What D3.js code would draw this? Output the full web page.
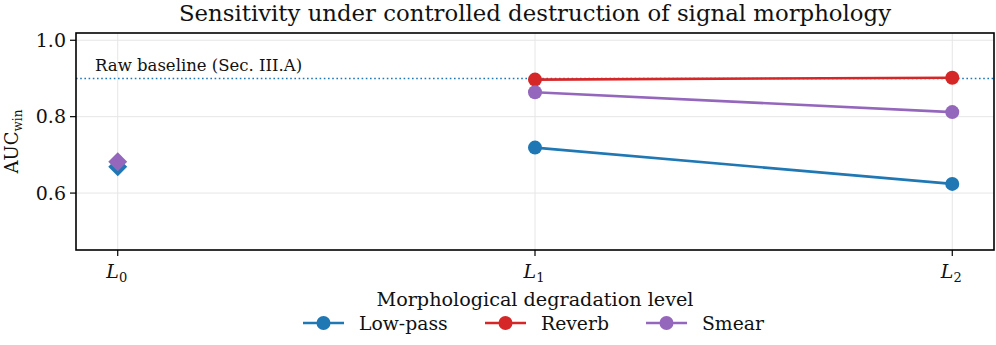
<!doctype html>
<html>
<head>
<meta charset="utf-8">
<script src="https://cdn.jsdelivr.net/npm/d3@7/dist/d3.min.js"></script>
<style>
  body { margin: 0; background: #fff; }
  text { font-family: "DejaVu Serif", serif; fill: #111; }
</style>
</head>
<body>
<script>
// data
const levels = [0, 1, 2]
const levelNames = ['0', '1', '2']
const seriesNames = ['Low-pass', 'Reverb', 'Smear']
const seriesColors = ['#1f77b4', '#d62728', '#9467bd']
const lowpass = [0.669, 0.719, 0.624]
const reverb = [null, 0.897, 0.902]
const smear = [0.682, 0.864, 0.812]
const baseline = 0.9
const yTicks = [0.6, 0.8, 1.0]

const W = 996, H = 345
const m = { left: 76, right: 2, top: 33, bottom: 95 }

const svg = d3.select('body').append('svg')
    .attr('width', W)
    .attr('height', H)

const x = d3.scaleLinear().domain([-0.1, 2.1]).range([m.left, W - m.right])
const y = d3.scaleLinear().domain([0.451, 1.019]).range([H - m.bottom, m.top])

// grid
svg.append('g').selectAll('line.gx')
    .data(levels).enter().append('line')
    .attr('x1', d => x(d)).attr('x2', d => x(d))
    .attr('y1', m.top).attr('y2', H - m.bottom)
    .attr('stroke', '#e6e6e6').attr('stroke-width', 1)
svg.append('g').selectAll('line.gy')
    .data(yTicks).enter().append('line')
    .attr('x1', m.left).attr('x2', W - m.right)
    .attr('y1', d => y(d)).attr('y2', d => y(d))
    .attr('stroke', '#e6e6e6').attr('stroke-width', 1)

// baseline
svg.append('line')
    .attr('x1', m.left).attr('x2', W - m.right)
    .attr('y1', y(baseline)).attr('y2', y(baseline))
    .attr('stroke', '#1f77b4').attr('stroke-width', 1.6)
    .attr('stroke-dasharray', '1.6,2.6')
svg.append('text')
    .attr('x', 95).attr('y', y(baseline) - 7)
    .attr('font-size', 16.5)
    .text('Raw baseline (Sec. III.A)')

// series lines (L1 -> L2)
const allSeries = [lowpass, reverb, smear]
const line = d3.line()
    .x((d, i) => x(levels[i]))
    .y(d => y(d))
    .defined((d, i) => i > 0 && d != null)

allSeries.forEach((s, k) => {
    svg.append('path')
        .datum(s)
        .attr('d', line)
        .attr('fill', 'none')
        .attr('stroke', seriesColors[k])
        .attr('stroke-width', 2.6)
    svg.append('g').selectAll('circle')
        .data(s.map((v, i) => [i, v]).filter(p => p[0] > 0 && p[1] != null))
        .enter().append('circle')
        .attr('cx', p => x(levels[p[0]]))
        .attr('cy', p => y(p[1]))
        .attr('r', 7)
        .attr('fill', seriesColors[k])
})

// L0 diamonds
allSeries.forEach((s, k) => {
    if (s[0] == null) return
    svg.append('path')
        .attr('d', d3.symbol().type(d3.symbolSquare).size(180)())
        .attr('transform', `translate(${x(levels[0])},${y(s[0])}) rotate(45)`)
        .attr('fill', seriesColors[k])
})

// axes frame
svg.append('rect')
    .attr('x', m.left).attr('y', m.top)
    .attr('width', W - m.right - m.left).attr('height', H - m.bottom - m.top)
    .attr('fill', 'none').attr('stroke', '#000').attr('stroke-width', 1.6)

// y ticks
const yAxis = svg.append('g')
yAxis.selectAll('line').data(yTicks).enter().append('line')
    .attr('x1', m.left - 6).attr('x2', m.left)
    .attr('y1', d => y(d)).attr('y2', d => y(d))
    .attr('stroke', '#000').attr('stroke-width', 1.2)
yAxis.selectAll('text').data(yTicks).enter().append('text')
    .attr('x', m.left - 10).attr('y', d => y(d) + 6.5)
    .attr('text-anchor', 'end')
    .attr('font-size', 19)
    .text(d => d.toFixed(1))

// x ticks
const xAxis = svg.append('g')
xAxis.selectAll('line').data(levels).enter().append('line')
    .attr('x1', d => x(d)).attr('x2', d => x(d))
    .attr('y1', H - m.bottom).attr('y2', H - m.bottom + 6)
    .attr('stroke', '#000').attr('stroke-width', 1.2)
const xt = xAxis.selectAll('text').data(levels).enter().append('text')
    .attr('x', d => x(d) - 1).attr('y', H - m.bottom + 28)
    .attr('text-anchor', 'middle')
    .attr('font-size', 19)
xt.append('tspan').attr('font-style', 'italic').text('L')
xt.append('tspan').attr('font-size', 13).attr('dy', 4).text((d, i) => levelNames[i])

// y label
const yl = svg.append('text')
    .attr('transform', `translate(18,${(m.top + H - m.bottom) / 2}) rotate(-90)`)
    .attr('text-anchor', 'middle')
    .attr('font-size', 18)
yl.append('tspan').text('AUC')
yl.append('tspan').attr('font-size', 12).attr('dy', 4).text('win')

// title
svg.append('text')
    .attr('x', (m.left + W - m.right) / 2).attr('y', 21)
    .attr('text-anchor', 'middle')
    .attr('font-size', 22.8)
    .text('Sensitivity under controlled destruction of signal morphology')

// x label
svg.append('text')
    .attr('x', (m.left + W - m.right) / 2).attr('y', 306)
    .attr('text-anchor', 'middle')
    .attr('font-size', 19.2)
    .text('Morphological degradation level')

// legend
const legX = [303, 485, 646]
seriesNames.forEach((name, k) => {
    const g = svg.append('g').attr('transform', `translate(${legX[k]},323)`)
    g.append('line').attr('x1', 0).attr('x2', 41).attr('y1', 0).attr('y2', 0)
        .attr('stroke', seriesColors[k]).attr('stroke-width', 2.6)
    g.append('circle').attr('cx', 20.5).attr('cy', 0).attr('r', 7).attr('fill', seriesColors[k])
    g.append('text').attr('x', 56).attr('y', 7).attr('font-size', 18.8).text(name)
})
</script>
</body>
</html>
